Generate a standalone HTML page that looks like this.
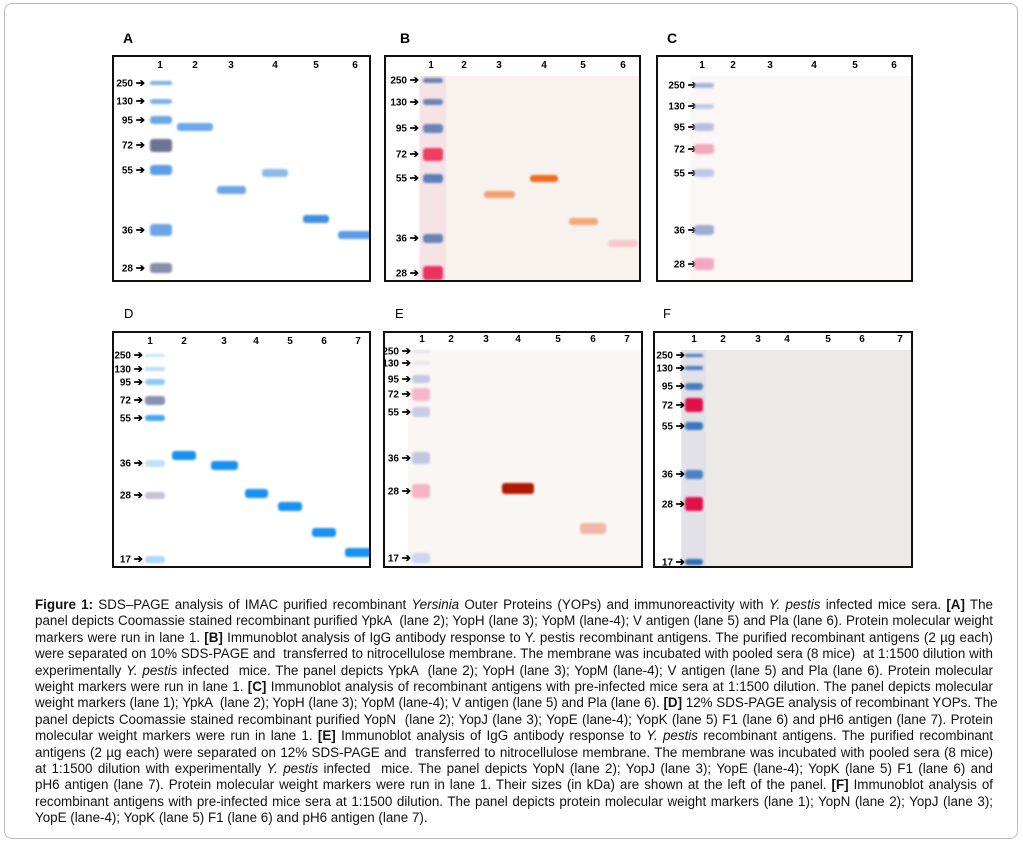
<!DOCTYPE html>
<html><head><meta charset="utf-8">
<style>
html,body{margin:0;padding:0;background:#fff;}
body{width:1023px;height:844px;position:relative;overflow:hidden;font-family:"Liberation Sans",Arial,sans-serif;}
#frame{position:absolute;left:4px;top:3px;width:1014px;height:836px;border:1px solid #bbb;border-radius:8px;box-sizing:border-box;}
.plabel{position:absolute;font-size:13px;color:#000;}
.box{position:absolute;border:2px solid #111;box-sizing:border-box;overflow:hidden;}
.lane{position:absolute;font-size:10px;font-weight:bold;transform:translateX(-50%);}
.mk{position:absolute;font-size:10px;font-weight:bold;text-align:right;transform:translateY(-50%);white-space:nowrap;}
.band{position:absolute;filter:blur(1px);}
#caption{position:absolute;left:35px;top:597px;width:958px;font-size:13.4px;line-height:16.4px;color:#111;}
#caption div{text-align:justify;text-align-last:justify;white-space:nowrap;}
#caption div.last{text-align-last:left;}
</style></head><body>
<div id="frame"></div>
<div id="panels"></div>
<div id="caption">
<div style="white-space:normal"><b>Figure 1:</b> SDS–PAGE analysis of IMAC purified recombinant <i>Yersinia</i> Outer Proteins (YOPs) and immunoreactivity with <i>Y. pestis</i> infected mice sera. <b>[A]</b> The</div>
<div>panel depicts Coomassie stained recombinant purified YpkA &nbsp;(lane 2); YopH (lane 3); YopM (lane-4); V antigen (lane 5) and Pla (lane 6). Protein molecular weight</div>
<div>markers were run in lane 1. <b>[B]</b> Immunoblot analysis of IgG antibody response to Y. pestis recombinant antigens. The purified recombinant antigens (2 µg each)</div>
<div>were separated on 10% SDS-PAGE and &nbsp;transferred to nitrocellulose membrane. The membrane was incubated with pooled sera (8 mice) &nbsp;at 1:1500 dilution with</div>
<div>experimentally <i>Y. pestis</i> infected &nbsp;mice. The panel depicts YpkA &nbsp;(lane 2); YopH (lane 3); YopM (lane-4); V antigen (lane 5) and Pla (lane 6). Protein molecular</div>
<div>weight markers were run in lane 1. <b>[C]</b> Immunoblot analysis of recombinant antigens with pre-infected mice sera at 1:1500 dilution. The panel depicts molecular</div>
<div>weight markers (lane 1); YpkA &nbsp;(lane 2); YopH (lane 3); YopM (lane-4); V antigen (lane 5) and Pla (lane 6). <b>[D]</b> 12% SDS-PAGE analysis of recombinant YOPs. The</div>
<div>panel depicts Coomassie stained recombinant purified YopN &nbsp;(lane 2); YopJ (lane 3); YopE (lane-4); YopK (lane 5) F1 (lane 6) and pH6 antigen (lane 7). Protein</div>
<div>molecular weight markers were run in lane 1. <b>[E]</b> Immunoblot analysis of IgG antibody response to <i>Y. pestis</i> recombinant antigens. The purified recombinant</div>
<div>antigens (2 µg each) were separated on 12% SDS-PAGE and &nbsp;transferred to nitrocellulose membrane. The membrane was incubated with pooled sera (8 mice)</div>
<div>at 1:1500 dilution with experimentally <i>Y. pestis</i> infected &nbsp;mice. The panel depicts YopN (lane 2); YopJ (lane 3); YopE (lane-4); YopK (lane 5) F1 (lane 6) and</div>
<div>pH6 antigen (lane 7). Protein molecular weight markers were run in lane 1. Their sizes (in kDa) are shown at the left of the panel. <b>[F]</b> Immunoblot analysis of</div>
<div>recombinant antigens with pre-infected mice sera at 1:1500 dilution. The panel depicts protein molecular weight markers (lane 1); YopN (lane 2); YopJ (lane 3);</div>
<div class="last">YopE (lane-4); YopK (lane 5) F1 (lane 6) and pH6 antigen (lane 7).</div>
</div>
<script>
// marker ladders (kDa)
const markersABC = [250,130,95,72,55,36,28];
const markersDEF = [250,130,95,72,55,36,28,17];
// sample bands: [lane, apparent kDa]
const bandsA = [[2,89],[3,48.7],[4,54],[5,39.5],[6,35]];
const bandsB = [[3,49.7],[4,54.7],[5,41.3],[6,34.8]];
const bandsC = [];
const bandsD = [[2,39.2],[3,35.3],[4,28.3],[5,26.1],[6,21.6],[7,18.2]];
const bandsE = [[4,28.7],[6,21.8]];
const bandsF = [];

const panels = [
 {id:'A',lx:123,ly:30,bold:true,box:[112,55,259,227],bg:'#fff',markers:markersABC,my:[81,99,118,143,168,228,266],lanes:[158,193,229,273,314,353],laneY:64,labR:133,ladX:159,ladW:22,
  ladH:[4,5,8,13,10,12,10],
  ladC:['#7fb0e6','#7fb0e6','#6aa8e6','#6e7396','#5a9ee6','#6aa6e6','#8a8ca8'],bands:bandsA,bw:[36,29,26,26,34],bc:['#6aa8e8','#6aa8e8','#8cbbe8','#3f8fe0','#5b9ee6'],bh:8},
 {id:'B',lx:400,ly:30,bold:true,box:[384,55,257,227],bg:'#f8f2ef',markers:markersABC,my:[78,100,126,152,176,236,271],lanes:[429,462,497,542,581,621],laneY:64,labR:407,ladX:431,ladW:20,
  ladH:[5,6,9,13,9,9,14],
  ladC:['#6b84b4','#6b84b4','#6b84b4','#ee3e66','#5f7fb8','#6a82b4','#ee3060'],bands:bandsB,bw:[31,28,29,30],bc:['#f3a070','#f06a20','#f6a878','#f8c8c8'],bh:7,ladBg:'#f4d8e0'},
 {id:'C',lx:667,ly:30,bold:true,box:[656,55,257,227],bg:'#fbf7f7',markers:markersABC,my:[83,104,125,147,171,228,262],lanes:[700,731,768,812,853,892],laneY:64,labR:685,ladX:702,ladW:20,
  ladH:[5,5,8,10,8,10,12],
  ladC:['#a8b4d8','#c4cce4','#b8c0e0','#f2a8c0','#c0c8e4','#a0acd0','#f4a8c4'],bands:bandsC,bw:[],bc:[],bh:6},
 {id:'D',lx:124,ly:306,bold:false,box:[112,331,259,237],bg:'#fff',markers:markersDEF,my:[353,367,380,398,416,461,493,557],lanes:[148,182,222,254,288,322,356],laneY:340,labR:131,ladX:153,ladW:20,
  ladH:[3,4,6,9,6,7,7,7],
  ladC:['#c8e4f8','#b8dcf8','#8cc8f4','#8a90b0','#40a8f0','#c0e2f8','#c8c0d4','#b0d8f8'],bands:bandsD,bw:[24,27,23,24,24,27],bc:['#1890f0','#1890f0','#1890f0','#1890f0','#1890f0','#1890f0'],bh:9},
 {id:'E',lx:395,ly:306,bold:false,box:[383,331,260,237],bg:'#f9f6f4',markers:markersDEF,my:[349,361,377,392,410,456,489,556],lanes:[420,449,484,516,556,591,625],laneY:338,labR:399,ladX:419,ladW:18,
  ladH:[3,4,8,13,10,12,14,10],
  ladC:['#e4e4ee','#e8e8f0','#c4c8e4','#f4b8cc','#c8cce4','#c0c8e0','#f4b4c8','#d0d4ec'],bands:bandsE,bw:[32,26],bc:['#b01800','#f0b8a8'],bh:11},
 {id:'F',lx:663,ly:306,bold:false,box:[653,331,260,237],bg:'#ede9e8',markers:markersDEF,my:[353,366,384,403,424,472,502,560],lanes:[692,721,756,785,826,860,898],laneY:338,labR:673,ladX:692,ladW:18,
  ladH:[3,4,7,14,8,9,14,6],
  ladC:['#4a7cc0','#4a7cc0','#4a7cc0','#e0104a','#3a78c0','#4a80c4','#e0104a','#2a70b0'],bands:bandsF,bw:[],bc:[],bh:6,ladBg:'#dcdce8'}
];

function yFor(p,kda){
  const m=p.markers, y=p.my;
  for(let i=0;i<m.length-1;i++){
    if(kda<=m[i] && kda>=m[i+1]){
      const t=(m[i]-kda)/(m[i]-m[i+1]);
      return y[i]+t*(y[i+1]-y[i]);
    }
  }
  return y[y.length-1];
}

const root=document.getElementById('panels');
panels.forEach(p=>{
  const lab=document.createElement('div');
  lab.className='plabel';
  
  
  lab.style.left=p.lx+'px';lab.style.top=p.ly+'px';
  if(p.bold){lab.style.fontWeight='bold';lab.style.fontSize='14px';}
  lab.textContent=p.id;
  root.appendChild(lab);

  const box=document.createElement('div');
  box.className='box';
  
  
  box.style.left=p.box[0]+'px';box.style.top=p.box[1]+'px';
  box.style.width=p.box[2]+'px';box.style.height=p.box[3]+'px';
  box.style.background='#fff';
  root.appendChild(box);
  const gel=document.createElement('div');
  
  
  gel.style.position='absolute';
  gel.style.left=(p.ladX-p.ladW/2-4-p.box[0])+'px';
  gel.style.top=(p.laneY+10-p.box[1])+'px';
  gel.style.right='0';gel.style.bottom='0';
  gel.style.background=p.bg;
  box.appendChild(gel);
  if(p.ladBg){
    const lb=document.createElement('div');
    
    
    lb.style.position='absolute';
    lb.style.left=(p.ladX-p.ladW/2-3-p.box[0])+'px';
    lb.style.width=(p.ladW+6)+'px';
    lb.style.top=(p.laneY+10-p.box[1])+'px';lb.style.bottom='0';
    lb.style.background=p.ladBg;lb.style.opacity='0.6';
    box.appendChild(lb);
  }
  p.lanes.forEach((x,i)=>{
    const l=document.createElement('div');
    l.className='lane';
    
    
    l.style.left=(x-p.box[0])+'px';l.style.top=(p.laneY-6-p.box[1])+'px';
    l.textContent=String(i+1);
    box.appendChild(l);
  });
  p.markers.forEach((m,i)=>{
    const y=p.my[i];
    const t=document.createElement('div');
    t.className='mk';
    
    
    t.style.right=(p.box[0]+p.box[2]-p.labR-14)+'px';
    t.style.top=(y-p.box[1])+'px';
    t.innerHTML=m+' <span style="font-size:11px">&#10132;</span>';
    box.appendChild(t);
    const b=document.createElement('div');
    b.className='band';
    
    
    const h=p.ladH[i];
    b.style.left=(p.ladX-p.ladW/2-p.box[0])+'px';b.style.width=p.ladW+'px';
    b.style.top=(y-h/2-p.box[1])+'px';b.style.height=h+'px';
    b.style.background=p.ladC[i];b.style.borderRadius='3px';
    box.appendChild(b);
  });
  p.bands.forEach((bd,i)=>{
    const y=yFor(p,bd[1]);
    const x=p.lanes[bd[0]-1];
    const w=p.bw[i];
    const b=document.createElement('div');
    b.className='band';
    
    
    b.style.left=(x-w/2-p.box[0])+'px';b.style.width=w+'px';
    b.style.top=(y-p.bh/2-p.box[1])+'px';b.style.height=p.bh+'px';
    b.style.background=p.bc[i];b.style.borderRadius='3px';
    box.appendChild(b);
  });
});
</script>
</body></html>
